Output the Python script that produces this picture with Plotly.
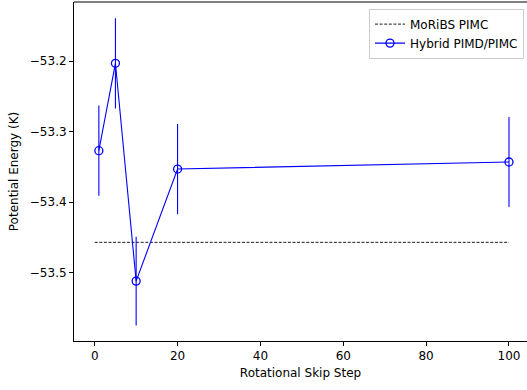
import plotly.graph_objects as go

# Data
skip_steps = [1, 5, 10, 20, 100]
energy = [-53.327, -53.203, -53.512, -53.353, -53.343]
energy_err = [0.064, 0.064, 0.063, 0.064, 0.064]
ref_x = [0, 100]
ref_energy = [-53.457, -53.457]

x_ticks = [0, 20, 40, 60, 80, 100]
x_ticklabels = ["0", "20", "40", "60", "80", "100"]
y_ticks = [-53.5, -53.4, -53.3, -53.2]
y_ticklabels = ["\u221253.5", "\u221253.4", "\u221253.3", "\u221253.2"]

FONT = "DejaVu Sans"

fig = go.Figure()
fig.add_trace(go.Scatter(
    x=ref_x, y=ref_energy, mode="lines", name="MoRiBS PIMC",
    line=dict(color="black", width=0.9, dash="3px,1.6px"),
))
fig.add_trace(go.Scatter(
    x=skip_steps, y=energy, mode="lines+markers", name="Hybrid PIMD/PIMC",
    line=dict(color="blue", width=1.1),
    marker=dict(symbol="circle-open", size=8, color="blue", line=dict(width=1.3, color="blue")),
    error_y=dict(type="data", array=energy_err, visible=True, color="blue", thickness=1.1, width=0),
))

fig.update_layout(
    width=527, height=390,
    margin=dict(l=74, r=0, t=2, b=49),
    paper_bgcolor="white", plot_bgcolor="white",
    font=dict(family=FONT, size=12, color="black"),
    showlegend=True,
    legend=dict(
        x=0.9934, y=0.9805, xanchor="right", yanchor="top",
        bgcolor="rgba(255,255,255,0.8)", bordercolor="#cccccc", borderwidth=1,
        font=dict(family=FONT, size=12), tracegroupgap=0,
    ),
    xaxis=dict(
        range=[-5, 104.35], tickvals=x_ticks, ticktext=x_ticklabels,
        showgrid=False, zeroline=False, showline=True, linecolor="black", linewidth=1,
        ticks="outside", ticklen=4, tickwidth=1, tickcolor="black",
        title=dict(text="Rotational Skip Step", font=dict(family=FONT, size=12), standoff=6),
        automargin=False,
    ),
    yaxis=dict(
        range=[-53.597, -53.116], tickvals=y_ticks, ticktext=y_ticklabels,
        showgrid=False, zeroline=False, showline=True, linecolor="black", linewidth=1,
        ticks="outside", ticklen=4, tickwidth=1, tickcolor="black",
        title=dict(text="Potential Energy (K)", font=dict(family=FONT, size=12), standoff=8),
        automargin=False,
    ),
    shapes=[dict(type="line", xref="paper", yref="paper", x0=0, x1=1, y0=1, y1=1,
                 line=dict(color="black", width=1))],
)

fig.write_html("out.html")
